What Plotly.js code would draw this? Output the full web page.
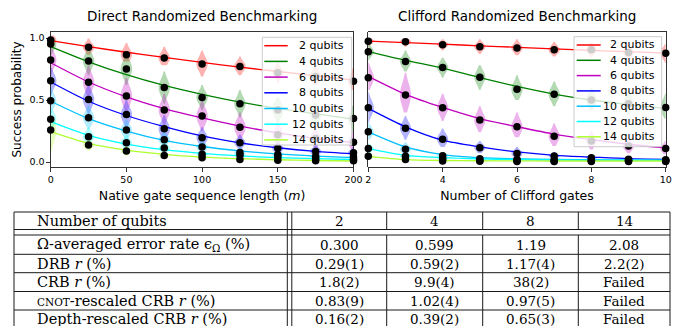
<!DOCTYPE html>
<html><head><meta charset="utf-8">
<script src="https://cdn.plot.ly/plotly-3.0.1.min.js"></script>
<style>html,body{margin:0;padding:0;background:#fff}#chart{width:680px;height:326px}</style>
</head><body><div id="chart"></div>
<script>
// ---------------- DATA ----------------
const qubits = [2, 4, 6, 8, 10, 12, 14];
const qubitColors = ['#ff0000', '#008000', '#bf00bf', '#0000ff', '#00bfff', '#00ffff', '#adff2f'];

// Direct RB: native gate sequence length m
const drbLengths = [0, 25, 50, 75, 100, 125, 150, 175, 200];
const drbMean = [
  [0.984, 0.925, 0.865, 0.838, 0.790, 0.770, 0.720, 0.690, 0.652],
  [0.952, 0.815, 0.750, 0.600, 0.520, 0.470, 0.420, 0.380, 0.350],
  [0.823, 0.643, 0.532, 0.420, 0.370, 0.280, 0.220, 0.190, 0.160],
  [0.655, 0.505, 0.383, 0.268, 0.195, 0.155, 0.110, 0.085, 0.075],
  [0.494, 0.357, 0.258, 0.180, 0.120, 0.076, 0.060, 0.045, 0.040],
  [0.344, 0.204, 0.155, 0.112, 0.062, 0.055, 0.040, 0.025, 0.020],
  [0.258, 0.137, 0.088, 0.052, 0.035, 0.020, 0.015, 0.010, 0.010]
];
const drbFit = [
  [0.978, 0.930, 0.885, 0.843, 0.803, 0.765, 0.730, 0.695, 0.660],
  [0.930, 0.808, 0.704, 0.617, 0.545, 0.483, 0.432, 0.388, 0.345],
  [0.800, 0.645, 0.525, 0.430, 0.355, 0.290, 0.235, 0.190, 0.155],
  [0.645, 0.490, 0.375, 0.285, 0.210, 0.155, 0.115, 0.085, 0.065],
  [0.490, 0.350, 0.250, 0.175, 0.125, 0.090, 0.065, 0.048, 0.035],
  [0.325, 0.215, 0.145, 0.100, 0.070, 0.050, 0.035, 0.027, 0.020],
  [0.245, 0.150, 0.095, 0.062, 0.040, 0.027, 0.018, 0.012, 0.008]
];
const drbLow = [
  [0.92, 0.865, 0.81, 0.78, 0.69, 0.70, 0.64, 0.62, 0.58],
  [0.86, 0.70, 0.62, 0.47, 0.42, 0.36, 0.30, 0.28, 0.24],
  [0.70, 0.52, 0.40, 0.30, 0.25, 0.18, 0.13, 0.10, 0.08],
  [0.54, 0.38, 0.27, 0.18, 0.12, 0.09, 0.06, 0.04, 0.03],
  [0.39, 0.26, 0.17, 0.11, 0.07, 0.04, 0.03, 0.02, 0.01],
  [0.24, 0.14, 0.09, 0.06, 0.03, 0.02, 0.01, 0.00, 0.00],
  [0.08, 0.09, 0.05, 0.03, 0.01, 0.00, 0.00, 0.00, 0.00]
];
const drbHigh = [
  [1.02, 0.995, 0.96, 0.93, 0.90, 0.85, 0.80, 0.78, 0.76],
  [1.00, 0.93, 0.86, 0.73, 0.62, 0.58, 0.52, 0.48, 0.46],
  [0.93, 0.78, 0.68, 0.55, 0.50, 0.40, 0.32, 0.28, 0.25],
  [0.76, 0.63, 0.50, 0.38, 0.28, 0.22, 0.17, 0.14, 0.12],
  [0.60, 0.46, 0.34, 0.25, 0.18, 0.12, 0.09, 0.07, 0.06],
  [0.43, 0.28, 0.22, 0.16, 0.10, 0.09, 0.06, 0.05, 0.04],
  [0.36, 0.19, 0.13, 0.08, 0.06, 0.04, 0.03, 0.02, 0.02]
];

// Clifford RB: number of Clifford gates
const crbLengths = [2, 3, 4, 5, 6, 7, 8, 9, 10];
const crbMean = [
  [0.973, 0.970, 0.946, 0.930, 0.920, 0.905, 0.905, 0.884, 0.878],
  [0.890, 0.810, 0.762, 0.684, 0.586, 0.546, 0.500, 0.470, 0.440],
  [0.680, 0.540, 0.438, 0.338, 0.284, 0.208, 0.170, 0.130, 0.108],
  [0.438, 0.273, 0.184, 0.114, 0.068, 0.049, 0.035, 0.022, 0.019],
  [0.243, 0.103, 0.050, 0.027, 0.020, 0.016, 0.015, 0.014, 0.013],
  [0.108, 0.046, 0.027, 0.013, 0.012, 0.011, 0.010, 0.010, 0.010],
  [0.046, 0.020, 0.008, 0.006, 0.005, 0.005, 0.005, 0.005, 0.005]
];
const crbFit = [
  [0.975, 0.962, 0.950, 0.937, 0.925, 0.913, 0.900, 0.890, 0.878],
  [0.890, 0.820, 0.757, 0.680, 0.610, 0.548, 0.500, 0.463, 0.432],
  [0.690, 0.546, 0.440, 0.350, 0.285, 0.225, 0.180, 0.143, 0.114],
  [0.432, 0.284, 0.176, 0.122, 0.081, 0.054, 0.040, 0.027, 0.022],
  [0.243, 0.122, 0.060, 0.035, 0.025, 0.020, 0.018, 0.016, 0.015],
  [0.108, 0.054, 0.035, 0.025, 0.020, 0.017, 0.015, 0.014, 0.013],
  [0.046, 0.019, 0.012, 0.010, 0.009, 0.008, 0.008, 0.008, 0.008]
];
const crbLow = [
  [0.93, 0.93, 0.90, 0.87, 0.86, 0.85, 0.84, 0.82, 0.80],
  [0.82, 0.73, 0.68, 0.58, 0.50, 0.45, 0.42, 0.38, 0.35],
  [0.58, 0.40, 0.33, 0.24, 0.20, 0.13, 0.10, 0.07, 0.06],
  [0.32, 0.18, 0.12, 0.07, 0.04, 0.03, 0.02, 0.01, 0.01],
  [0.18, 0.06, 0.03, 0.01, 0.01, 0.01, 0.00, 0.00, 0.00],
  [0.06, 0.02, 0.01, 0.00, 0.00, 0.00, 0.00, 0.00, 0.00],
  [0.02, 0.00, 0.00, 0.00, 0.00, 0.00, 0.00, 0.00, 0.00]
];
const crbHigh = [
  [1.00, 1.00, 0.99, 0.99, 0.99, 0.97, 0.96, 0.95, 0.95],
  [0.95, 0.90, 0.84, 0.78, 0.70, 0.65, 0.60, 0.57, 0.55],
  [0.80, 0.72, 0.55, 0.45, 0.40, 0.31, 0.25, 0.20, 0.17],
  [0.56, 0.37, 0.27, 0.17, 0.12, 0.08, 0.06, 0.04, 0.035],
  [0.32, 0.16, 0.08, 0.05, 0.04, 0.03, 0.03, 0.03, 0.03],
  [0.15, 0.08, 0.05, 0.03, 0.03, 0.02, 0.02, 0.02, 0.02],
  [0.08, 0.04, 0.02, 0.015, 0.015, 0.015, 0.015, 0.015, 0.015]
];

const drbTicks = [0, 50, 100, 150, 200];
const crbTicks = [2, 4, 6, 8, 10];
const probTicks = [0, 0.5, 1.0];
const probTickText = ['0.0', '0.5', '1.0'];

// Table
const tableHeader = ['Number of qubits', '2', '4', '8', '14'];
const tableRowLabels = [
  'Ω-averaged error rate ϵ<sub>Ω</sub> (%)',
  'DRB <i>r</i> (%)',
  'CRB <i>r</i> (%)',
  '<span style="font-size:10.5px">CNOT</span>-rescaled CRB <i>r</i> (%)',
  'Depth-rescaled CRB <i>r</i> (%)'
];
const rowOmegaError = ['0.300', '0.599', '1.19', '2.08'];
const rowDRB = ['0.29(1)', '0.59(2)', '1.17(4)', '2.2(2)'];
const rowCRB = ['1.8(2)', '9.9(4)', '38(2)', 'Failed'];
const rowCnotCRB = ['0.83(9)', '1.02(4)', '0.97(5)', 'Failed'];
const rowDepthCRB = ['0.16(2)', '0.39(2)', '0.65(3)', 'Failed'];
const tableRows = [rowOmegaError, rowDRB, rowCRB, rowCnotCRB, rowDepthCRB];

// ---------------- BUILD ----------------
const W = 680, H = 326;
const px = v => v / W, py = v => 1 - v / H;
function rgba(hex, a) {
  const n = parseInt(hex.slice(1), 16);
  return 'rgba(' + ((n >> 16) & 255) + ',' + ((n >> 8) & 255) + ',' + (n & 255) + ',' + a + ')';
}

const violins = [], lines = [], dots = [];
function addPanel(xs, mean, fit, lo, hi, xa, ya, vWidth) {
  qubits.forEach((q, qi) => {
    xs.forEach((xv, i) => {
      const m = mean[qi][i], l = lo[qi][i], h = hi[qi][i];
      const bw = Math.max(Math.max(m - l, h - m) / 2, 0.004);
      violins.push({
        type: 'violin', orientation: 'v', x: [xv], y: [m], xaxis: xa, yaxis: ya,
        spanmode: 'manual', span: [l, h], bandwidth: bw, width: vWidth, scalemode: 'width',
        fillcolor: rgba(qubitColors[qi], 0.3), line: {width: 0, color: rgba(qubitColors[qi], 0)},
        points: false, box: {visible: false}, meanline: {visible: false},
        hoverinfo: 'skip', showlegend: false
      });
    });
    lines.push({
      type: 'scatter', mode: 'lines', x: xs, y: fit[qi], xaxis: xa, yaxis: ya,
      line: {color: qubitColors[qi], width: 1.3, shape: 'spline', smoothing: 0.8},
      hoverinfo: 'skip', showlegend: false, name: q + ' qubits'
    });
    dots.push({
      type: 'scatter', mode: 'markers', x: xs, y: mean[qi], xaxis: xa, yaxis: ya,
      marker: {color: '#000', size: 7.5}, cliponaxis: false, hoverinfo: 'skip', showlegend: false
    });
  });
}
addPanel(drbLengths, drbMean, drbFit, drbLow, drbHigh, 'x', 'y', 7.5);
addPanel(crbLengths, crbMean, crbFit, crbLow, crbHigh, 'x2', 'y2', 0.3);
const data = violins.concat(lines, dots);

const shapes = [], annotations = [];

// subplot titles
[['x', 'Direct Randomized Benchmarking'], ['x2', 'Clifford Randomized Benchmarking']].forEach(([xa, t]) => {
  annotations.push({xref: xa + ' domain', yref: 'paper', x: 0.5, y: py(16), text: t, showarrow: false,
    xanchor: 'center', yanchor: 'middle', font: {family: 'DejaVu Sans', size: 13.5, color: '#000'}});
});

// legends (one per panel)
const legendDefs = [
  {box: [262.3, 351.7, 37.3, 145], y0: 45.7, dy: 15.7, line: [264.3, 287.7], textRight: 345.7},
  {box: [574, 661.7, 36.7, 146.7], y0: 45, dy: 15.3, line: [576.7, 600.7], textRight: 657.3}
];
legendDefs.forEach(L => {
  shapes.push({type: 'rect', xref: 'paper', yref: 'paper', layer: 'above',
    x0: px(L.box[0]), x1: px(L.box[1]), y0: py(L.box[2]), y1: py(L.box[3]),
    fillcolor: 'rgba(255,255,255,0.8)', line: {color: '#cccccc', width: 1}});
  qubits.forEach((q, qi) => {
    const yy = L.y0 + qi * L.dy;
    shapes.push({type: 'line', xref: 'paper', yref: 'paper', layer: 'above',
      x0: px(L.line[0]), x1: px(L.line[1]), y0: py(yy), y1: py(yy),
      line: {color: qubitColors[qi], width: 1.5}});
    annotations.push({xref: 'paper', yref: 'paper', x: px(L.textRight), y: py(yy),
      xanchor: 'right', yanchor: 'middle', showarrow: false, text: q + ' qubits',
      font: {family: 'DejaVu Sans', size: 11, color: '#000'}});
  });
});

// table grid
const tLeft = 14, tRight = 670, dbl = [287.3, 291.8];
const colEdges = [291.8, 386.7, 482.7, 578.3, 670];
const hTop = 212, hBot = 229.5, bTop = 235, bBot = 332;
const bodyLines = [254.3, 272.7, 291.5, 310];
const headerY = 220.5;
const rowY = [244.5, 263.5, 282, 300.5, 319];
const gridColor = '#1a1a1a';
function hline(y, x0, x1) {
  shapes.push({type: 'line', xref: 'paper', yref: 'paper', x0: px(x0), x1: px(x1), y0: py(y), y1: py(y), line: {color: gridColor, width: 1}});
}
function vline(x, y0, y1) {
  shapes.push({type: 'line', xref: 'paper', yref: 'paper', x0: px(x), x1: px(x), y0: py(y0), y1: py(y1), line: {color: gridColor, width: 1}});
}
[hTop, hBot, bTop].concat(bodyLines).forEach(y => hline(y, tLeft, tRight));
[tLeft, tRight, dbl[0], dbl[1]].forEach(x => vline(x, hTop, bBot));
colEdges.slice(1, -1).forEach(x => { vline(x, hTop, hBot); vline(x, bTop, bBot); });

const colCenters = colEdges.slice(0, -1).map((e, i) => (e + colEdges[i + 1]) / 2);
const labelX = 35;
const serif = 'DejaVu Serif';
const labelSize = 14.5, valueSize = 13.5;
annotations.push({xref: 'paper', yref: 'paper', x: px(labelX), y: py(headerY), xanchor: 'left', yanchor: 'middle',
  showarrow: false, text: tableHeader[0], font: {family: serif, size: labelSize, color: '#000'}});
tableHeader.slice(1).forEach((t, j) => {
  annotations.push({xref: 'paper', yref: 'paper', x: px(colCenters[j]), y: py(headerY), xanchor: 'center', yanchor: 'middle',
    showarrow: false, text: t, font: {family: serif, size: valueSize, color: '#000'}});
});
tableRowLabels.forEach((lab, i) => {
  annotations.push({xref: 'paper', yref: 'paper', x: px(labelX), y: py(rowY[i]), xanchor: 'left', yanchor: 'middle',
    showarrow: false, text: lab, font: {family: serif, size: labelSize, color: '#000'}});
  tableRows[i].forEach((v, j) => {
    annotations.push({xref: 'paper', yref: 'paper', x: px(colCenters[j]), y: py(rowY[i]), xanchor: 'center', yanchor: 'middle',
      showarrow: false, text: v, font: {family: serif, size: valueSize, color: '#000'}});
  });
});

const axisCommon = {
  ticks: 'outside', ticklen: 3.5, tickwidth: 0.8, tickcolor: '#000',
  showline: true, mirror: true, linecolor: '#000', linewidth: 0.8,
  showgrid: false, zeroline: false, tickfont: {family: 'DejaVu Sans', size: 9.5, color: '#000'}
};
const yDomain = [py(167.3), py(31.7)];
const yRange = [-0.0427, 1.0508];

const layout = {
  width: W, height: H, margin: {l: 0, r: 0, t: 0, b: 0},
  paper_bgcolor: '#fff', plot_bgcolor: '#fff', showlegend: false,
  violinmode: 'overlay', violingap: 0, violingroupgap: 0,
  font: {family: 'DejaVu Sans', color: '#000'},
  xaxis: Object.assign({}, axisCommon, {domain: [px(50.7), px(353.5)], range: [0, 200], tickvals: drbTicks, anchor: 'y',
    title: {text: 'Native gate sequence length (<i>m</i>)', font: {size: 12.5, color: '#000'}, standoff: 7}}),
  yaxis: Object.assign({}, axisCommon, {domain: yDomain, range: yRange, tickvals: probTicks, ticktext: probTickText, anchor: 'x',
    title: {text: 'Success probability', font: {size: 12, color: '#000'}, standoff: 5}}),
  xaxis2: Object.assign({}, axisCommon, {domain: [px(368.3), px(665.7)], range: [2, 10], tickvals: crbTicks, anchor: 'y2',
    title: {text: 'Number of Clifford gates', font: {size: 12.5, color: '#000'}, standoff: 7}}),
  yaxis2: Object.assign({}, axisCommon, {domain: yDomain, range: yRange, anchor: 'x2', showticklabels: false, ticks: ''}),
  shapes: shapes, annotations: annotations
};

Plotly.newPlot('chart', data, layout, {staticPlot: true, displayModeBar: false});
</script></body></html>
